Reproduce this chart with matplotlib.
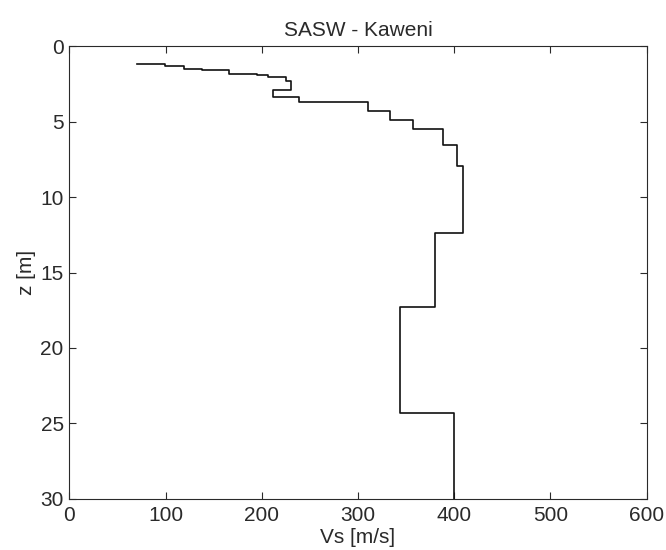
import matplotlib
matplotlib.use("Agg")
import matplotlib.pyplot as plt
import numpy as np

# SASW shear-wave velocity profile, Kaweni
# layer velocities [m/s] and layer top depths [m]
vs = [70, 99, 119, 138, 166, 195, 207, 225, 230, 212, 239,
      310, 333, 357, 388, 403, 409, 380, 344, 400]
z_top = [1.21, 1.21, 1.30, 1.49, 1.60, 1.83, 1.92, 2.03, 2.32, 2.89, 3.36,
         3.71, 4.30, 4.86, 5.52, 6.56, 7.97, 12.40, 17.26, 24.28]
z_max = 30

xticks = [0, 100, 200, 300, 400, 500, 600]
yticks = [0, 5, 10, 15, 20, 25, 30]

plt.rcParams['font.family'] = ['Liberation Sans', 'DejaVu Sans']

fig = plt.figure(figsize=(6.66, 5.50), dpi=100)
ax = fig.add_axes([0.104, 0.093, 0.867, 0.823])

# build the staircase: each layer is a vertical segment from its top to the next top
z_bot = z_top[1:] + [z_max]
x = np.repeat(vs, 2)
y = np.column_stack([z_top, z_bot]).ravel()
ax.plot(x, y, color='#111111', lw=1.2)

ax.set_xlim(0, 600)
ax.set_ylim(30, 0)
ax.set_xticks(xticks)
ax.set_yticks(yticks)
ax.tick_params(direction='in', length=5, width=0.8, top=True, right=True,
               labelsize=15, colors='#2a2a2a', pad=5)
ax.tick_params(axis='y', pad=4)
for s in ax.spines.values():
    s.set_color('#2a2a2a')
    s.set_linewidth(0.8)

ax.set_title('SASW - Kaweni', fontsize=15, color='#2a2a2a', pad=7)
ax.set_xlabel('Vs [m/s]', fontsize=15, color='#2a2a2a', labelpad=2)
ax.set_ylabel('z [m]', fontsize=15, color='#2a2a2a', labelpad=3)

fig.savefig('out.png', dpi=100)
